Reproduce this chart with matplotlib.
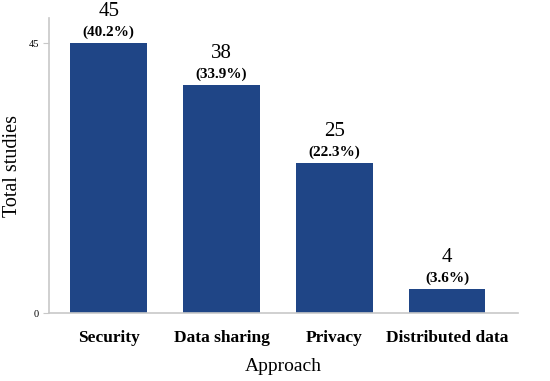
import matplotlib.pyplot as plt

plt.rcParams['font.family'] = ['Liberation Serif', 'DejaVu Serif']

approaches = ["Security", "Data sharing", "Privacy", "Distributed data"]
counts = [45, 38, 25, 4]
percents = ["40.2%", "33.9%", "22.3%", "3.6%"]

bar_color = "#1f4586"
grey = "#c8c8c8"

fig = plt.figure(figsize=(5.5, 3.81), dpi=100)
ax = fig.add_axes([0.089, 0.178, 0.853, 0.775])

x = range(len(approaches))
bars = ax.bar(x, counts, width=0.68, color=bar_color)

for b, c, p in zip(bars, counts, percents):
    cx = b.get_x() + b.get_width() / 2
    ax.annotate("(" + p + ")", (cx, b.get_height()), xytext=(0, 3),
                textcoords="offset points", ha="center", va="bottom",
                fontsize=11, fontweight="bold")
    ax.annotate(str(c), (cx, b.get_height()), xytext=(0, 16),
                textcoords="offset points", ha="center", va="bottom",
                fontsize=15)

ax.set_xlim(-0.53, 3.63)
ax.set_ylim(0, 49.2)
ax.set_yticks([0, 45])
ax.set_xticks(list(x))
ax.set_xticklabels(approaches, fontsize=12.5, fontweight="bold")
ax.tick_params(axis="x", length=0, pad=12)
ax.tick_params(axis="y", length=4, color=grey, labelsize=7.5, pad=3)

for s in ["top", "right"]:
    ax.spines[s].set_visible(False)
for s in ["left", "bottom"]:
    ax.spines[s].set_color(grey)
    ax.spines[s].set_linewidth(1.2)

ax.set_xlabel("Approach", fontsize=14, labelpad=9)
ax.set_ylabel("Total studies", fontsize=14.5)
ax.yaxis.set_label_coords(-0.058, 0.5)

fig.savefig("out.png", dpi=100)
